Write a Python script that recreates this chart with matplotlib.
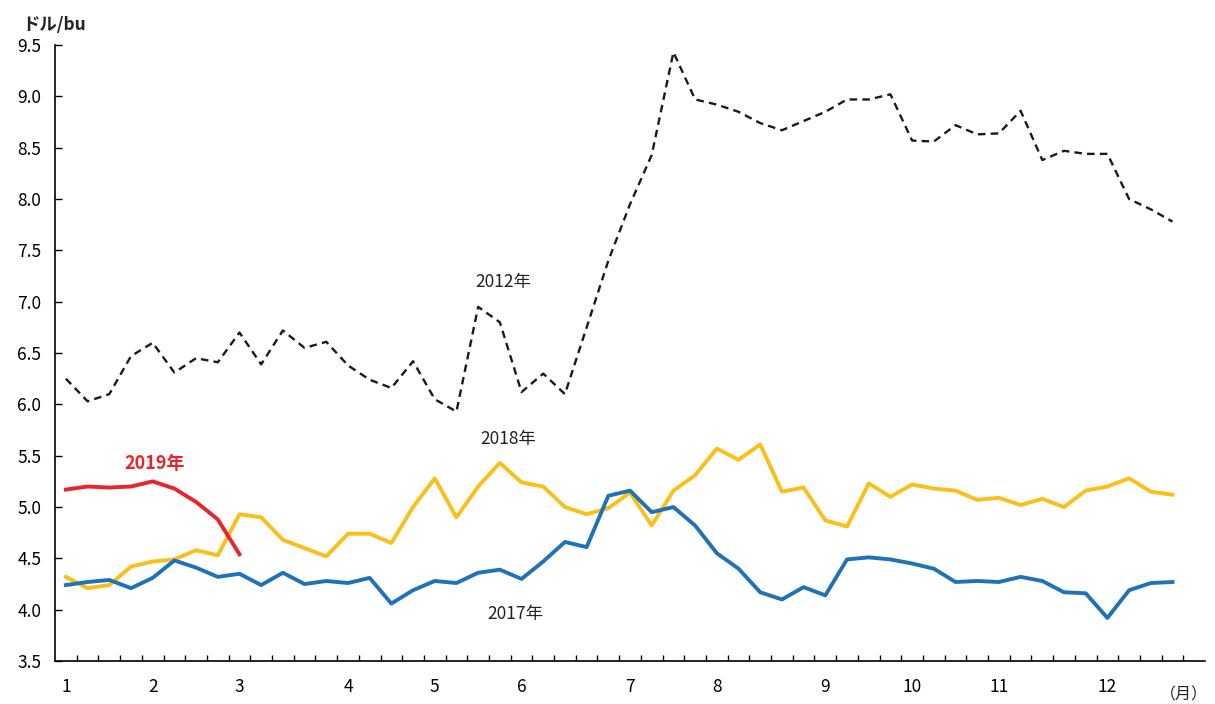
import matplotlib.pyplot as plt
import numpy as np

plt.rcParams['font.family'] = ['Noto Sans CJK JP', 'DejaVu Sans']

# weekly prices (dollars per bushel), 52 weeks
y2012 = [6.25, 6.03, 6.10, 6.47, 6.60, 6.31, 6.45, 6.41, 6.70, 6.39,
         6.72, 6.55, 6.61, 6.38, 6.24, 6.16, 6.42, 6.05, 5.93, 6.95,
         6.80, 6.12, 6.30, 6.10, 6.75, 7.40, 7.95, 8.43, 9.43, 8.97,
         8.92, 8.85, 8.74, 8.67, 8.76, 8.85, 8.97, 8.97, 9.02, 8.57,
         8.56, 8.72, 8.63, 8.64, 8.86, 8.38, 8.47, 8.44, 8.44, 8.00,
         7.90, 7.78]
y2017 = [4.24, 4.27, 4.29, 4.21, 4.31, 4.48, 4.41, 4.32, 4.35, 4.24,
         4.36, 4.25, 4.28, 4.26, 4.31, 4.06, 4.19, 4.28, 4.26, 4.36,
         4.39, 4.30, 4.47, 4.66, 4.61, 5.11, 5.16, 4.95, 5.00, 4.82,
         4.55, 4.40, 4.17, 4.10, 4.22, 4.14, 4.49, 4.51, 4.49, 4.45,
         4.40, 4.27, 4.28, 4.27, 4.32, 4.28, 4.17, 4.16, 3.92, 4.19,
         4.26, 4.27]
y2018 = [4.32, 4.21, 4.24, 4.42, 4.47, 4.49, 4.58, 4.53, 4.93, 4.90,
         4.68, 4.60, 4.52, 4.74, 4.74, 4.65, 5.00, 5.28, 4.90, 5.20,
         5.43, 5.24, 5.20, 5.00, 4.93, 4.99, 5.14, 4.82, 5.16, 5.31,
         5.57, 5.46, 5.61, 5.15, 5.19, 4.87, 4.81, 5.23, 5.10, 5.22,
         5.18, 5.16, 5.07, 5.09, 5.02, 5.08, 5.00, 5.16, 5.20, 5.28,
         5.15, 5.12]
y2019 = [5.17, 5.20, 5.19, 5.20, 5.25, 5.18, 5.05, 4.88, 4.54]

month_pos = [0, 4, 8, 13, 17, 21, 26, 30, 35, 39, 43, 48]
month_labels = ['1', '2', '3', '4', '5', '6', '7', '8', '9', '10', '11', '12']

fig = plt.figure(figsize=(12.15, 7.04), dpi=100)
ax = fig.add_axes([0.0453, 0.061, 0.9465, 0.875])

ax.plot(np.arange(len(y2012)), y2012, color='#1a1a1a', lw=1.7, ls=(0, (3.2, 2.2)))
ax.plot(np.arange(len(y2018)), y2018, color='#FBBF1A', lw=2.8)
ax.plot(np.arange(len(y2017)), y2017, color='#1F72B8', lw=2.8)
ax.plot(np.arange(len(y2019)), y2019, color='#E8262A', lw=2.8)

ax.set_xlim(-0.5, 52.5)
ax.set_ylim(3.5, 9.5)
ax.set_yticks(np.arange(3.5, 9.51, 0.5))
ax.set_yticklabels(['%.1f' % v for v in np.arange(3.5, 9.51, 0.5)])
ax.set_xticks(month_pos)
ax.set_xticklabels(month_labels)
ax.set_xticks(np.arange(0.5, 52.5, 1), minor=True)
ax.tick_params(axis='x', which='major', length=0, pad=12, labelsize=12.5)
ax.tick_params(axis='x', which='minor', direction='in', length=4, width=1)
ax.tick_params(axis='y', direction='in', length=5, width=1, labelsize=12.5, pad=10)

for s in ['top', 'right']:
    ax.spines[s].set_visible(False)
for s in ['left', 'bottom']:
    ax.spines[s].set_linewidth(1.2)

ax.text(20.15, 7.19, '2012年', fontsize=12.5, ha='center', va='center', color='#222222')
ax.text(20.4, 5.665, '2018年', fontsize=12.5, ha='center', va='center', color='#222222')
ax.text(20.7, 3.96, '2017年', fontsize=12.5, ha='center', va='center', color='#222222')
ax.text(4.1, 5.42, '2019年', fontsize=13, ha='center', va='center', color='#E8262A', fontweight='bold')

fig.text(0.018, 0.965, 'ドル/bu', fontsize=12.5, ha='left', va='center', fontweight='bold', color='#222222')
fig.text(0.994, 0.013, '（月）', fontsize=11.5, ha='right', va='center', color='#222222')

fig.savefig('out.png', dpi=100)
